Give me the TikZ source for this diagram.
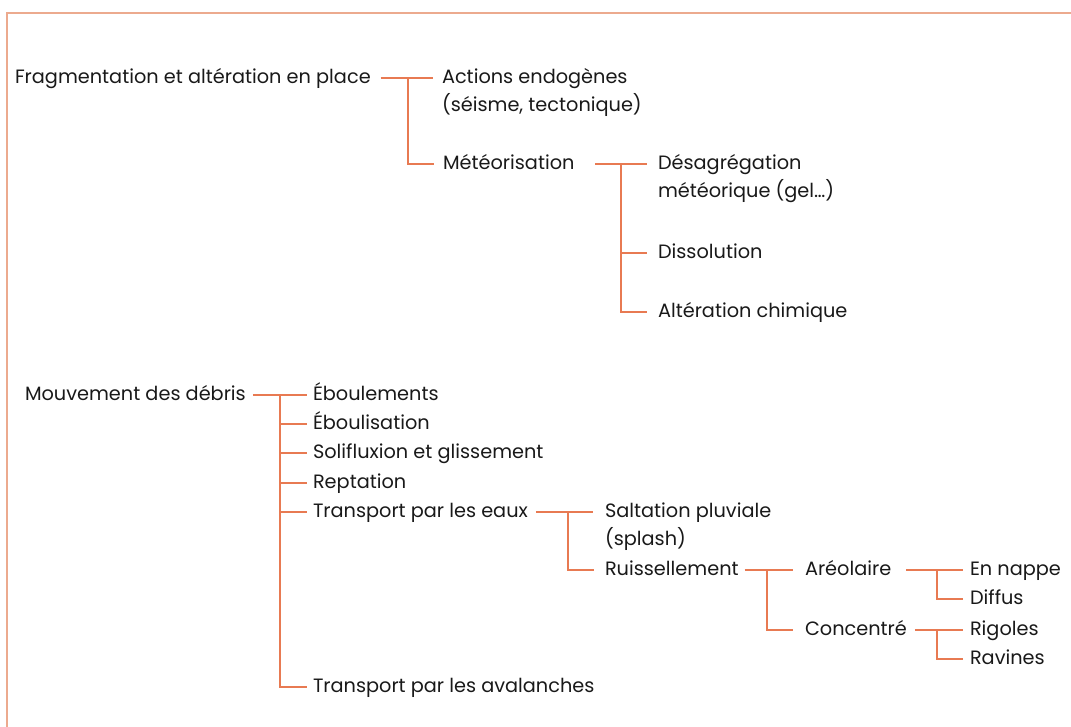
\documentclass[tikz,border=0pt]{standalone}
\usepackage{fontspec}
\setmainfont{Poppins}
\definecolor{framec}{RGB}{236,170,142}
\definecolor{connc}{RGB}{232,122,82}
\definecolor{txt}{RGB}{25,25,25}
\begin{document}
\begin{tikzpicture}[x=1pt,y=-1pt,
  lbl/.style={anchor=base west, inner sep=0pt, outer sep=0pt, align=left,
    font=\fontsize{19.3}{28.5}\selectfont, text=txt},
  conn/.style={draw=connc, line width=1.3pt}]
\useasboundingbox (0,0) rectangle (1071,726);
\clip (0,0) rectangle (1071,726);
\draw[framec, line width=1.8pt] (7,13) rectangle (1100,760);

% upper tree (two-line nodes are placed by the baseline of their last line)
\node[lbl] (frag) at (15,83) {Fragmentation et altération en place};
\node[lbl] (act) at (442,111.5) {Actions endogènes\\(séisme, tectonique)};
\node[lbl] (met) at (443,169) {Météorisation};
\node[lbl] (des) at (658,197.5) {Désagrégation\\météorique (gel…)};
\node[lbl] (dis) at (658,258) {Dissolution};
\node[lbl] (alt) at (658,317) {Altération chimique};

\coordinate (j1) at (408,78);
\coordinate (j2) at (621,164);
\draw[conn] ([shift={(10pt,5pt)}]frag.base east) -- ([shift={(-9pt,33.5pt)}]act.base west);
\draw[conn] (j1) |- ([shift={(-9pt,5pt)}]met.base west);
\draw[conn] ([shift={(21pt,5pt)}]met.base east) -- ([shift={(-11pt,33.5pt)}]des.base west);
\draw[conn] (j2) |- ([shift={(-11pt,5pt)}]dis.base west);
\draw[conn] (j2) |- ([shift={(-11pt,5pt)}]alt.base west);

% lower tree
\node[lbl] (mouv) at (25,400) {Mouvement des débris};
\node[lbl] (ebl) at (313,400) {Éboulements};
\node[lbl] (ebs) at (313,429) {Éboulisation};
\node[lbl] (sol) at (313,458) {Solifluxion et glissement};
\node[lbl] (rep) at (313,488) {Reptation};
\node[lbl] (teaux) at (313,517) {Transport par les eaux};
\node[lbl] (taval) at (313,692) {Transport par les avalanches};

\coordinate (j3) at (280,395);
\draw[conn] ([shift={(7pt,5pt)}]mouv.base east) -- ([shift={(-6pt,5pt)}]ebl.base west);
\foreach \n in {ebs,sol,rep,teaux,taval}
  \draw[conn] (j3) |- ([shift={(-6pt,5pt)}]\n.base west);

\node[lbl] (salt) at (605,545.5) {Saltation pluviale\\(splash)};
\node[lbl] (ruis) at (605,575) {Ruissellement};
\coordinate (j4) at (568,512);
\draw[conn] ([shift={(8pt,5pt)}]teaux.base east) -- ([shift={(-12pt,33.5pt)}]salt.base west);
\draw[conn] (j4) |- ([shift={(-11pt,5pt)}]ruis.base west);

\node[lbl] (areo) at (805,575) {Aréolaire};
\node[lbl] (conc) at (805,635) {Concentré};
\coordinate (j5) at (767,570);
\draw[conn] ([shift={(6pt,5pt)}]ruis.base east) -- ([shift={(-12pt,5pt)}]areo.base west);
\draw[conn] (j5) |- ([shift={(-12pt,5pt)}]conc.base west);

\node[lbl] (nappe) at (970,575) {En nappe};
\node[lbl] (diff) at (970,604) {Diffus};
\node[lbl] (rig) at (970,635) {Rigoles};
\node[lbl] (rav) at (970,664) {Ravines};
\coordinate (j6) at (937,570);
\coordinate (j7) at (937,630);
\draw[conn] ([shift={(15pt,5pt)}]areo.base east) -- ([shift={(-7pt,5pt)}]nappe.base west);
\draw[conn] (j6) |- ([shift={(-7pt,5pt)}]diff.base west);
\draw[conn] ([shift={(8pt,5pt)}]conc.base east) -- ([shift={(-7pt,5pt)}]rig.base west);
\draw[conn] (j7) |- ([shift={(-7pt,5pt)}]rav.base west);
\end{tikzpicture}
\end{document}
